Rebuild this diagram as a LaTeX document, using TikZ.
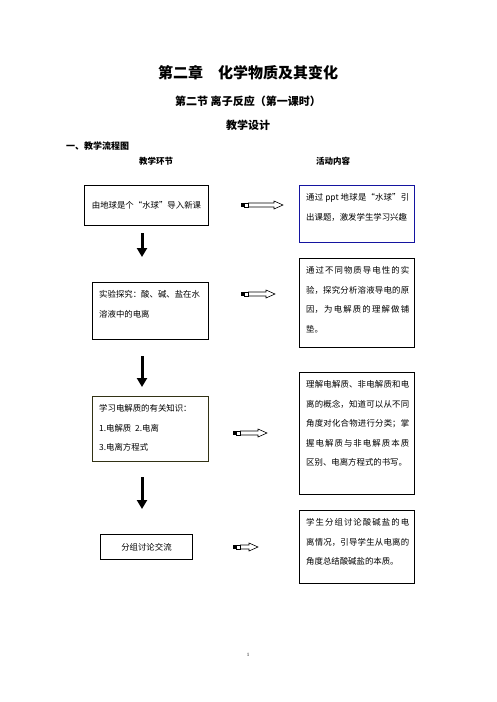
\documentclass[tikz,border=0pt]{standalone}
\usepackage{fontspec}
\setmainfont{Liberation Serif}
\newfontfamily\cjk{Noto Sans CJK SC}
\usetikzlibrary{arrows.meta}
\XeTeXlinebreaklocale "zh"
\XeTeXlinebreakskip=0pt plus 2pt

\definecolor{actblue}{RGB}{20,20,160}
\definecolor{darkolive}{RGB}{50,50,20}

\tikzset{
  stepbox/.style={draw, line width=0.9pt, anchor=north west, inner sep=0pt},
  boxtext/.style={anchor=north west, inner sep=0pt, align=left,
    font=\cjk\fontsize{8.4}{19.5}\selectfont},
  acttext/.style={boxtext, text width=103pt, align=justify},
  headtext/.style={font=\cjk\bfseries\fontsize{#1}{#1}\selectfont, inner sep=0pt},
  downarr/.style={line width=3pt, -{Triangle[width=10pt,length=9pt]}},
}

% hollow arrow between the two columns: x, y, x of the tip
\newcommand\hollowarrow[3]{%
  \fill (#1,#2-2) rectangle (#1+3,#2+2);
  \draw[line width=0.6pt] (#1+3,#2-2) rectangle (#1+7,#2+2);
  \draw[line width=0.6pt] (#1+7,#2-2) -- (#3-9,#2-2) -- (#3-9,#2-4) -- (#3,#2)
    -- (#3-9,#2+4) -- (#3-9,#2+2) -- (#1+7,#2+2);
}

\begin{document}
\begin{tikzpicture}[x=1pt,y=-1pt]
\useasboundingbox (0,0) rectangle (496,702);

% headings
\node[headtext=15] (title) at (248,73) {第二章　化学物质及其变化};
\node[headtext=11] (sect) at (248,101) {第二节 离子反应（第一课时）};
\node[headtext=11] (design) at (248,125) {教学设计};
\node[headtext=9, anchor=west] (flow) at (66,146) {一、教学流程图};
\node[headtext=8.5] (colL) at (156,161) {教学环节};
\node[headtext=8.5] (colR) at (333,161) {活动内容};

% left column: teaching steps
\node[stepbox, minimum width=124pt, minimum height=40pt,
  font=\cjk\fontsize{8.4}{10}\selectfont] (s1) at (84,185) {由地球是个“水球”导入新课};

\node[stepbox, minimum width=116pt, minimum height=57pt] (s2) at (92,282) {};
\node[boxtext] (t2) at (99,290.5) {实验探究：酸、碱、盐在水\\溶液中的电离};

\node[stepbox, draw=darkolive, minimum width=116pt, minimum height=65pt] (s3) at (92,396) {};
\node[boxtext] (t3) at (99,404.5) {学习电解质的有关知识：\\1.电解质\ \ 2.电离\\3.电离方程式};

\node[stepbox, minimum width=92pt, minimum height=25pt,
  font=\cjk\fontsize{8.4}{10}\selectfont] (s4) at (100,534) {分组讨论交流};

% right column: activities
\node[stepbox, draw=actblue, minimum width=115pt, minimum height=57pt] (a1) at (299,185) {};
\node[acttext] (u1) at (306,193.5) {通过 ppt 地球是“水球”引\linebreak 出课题，激发学生学习兴趣};

\node[stepbox, minimum width=115pt, minimum height=89pt] (a2) at (299,258) {};
\node[acttext] (u2) at (306,266.5) {通过不同物质导电性的实\linebreak 验，探究分析溶液导电的原\linebreak 因，为电解质的理解做铺\linebreak 垫。};

\node[stepbox, minimum width=115pt, minimum height=122pt] (a3) at (299,372) {};
\node[acttext] (u3) at (306,380.5) {理解电解质、非电解质和电\linebreak 离的概念，知道可以从不同\linebreak 角度对化合物进行分类；掌\linebreak 握电解质与非电解质本质\linebreak 区别、电离方程式的书写。};

\node[stepbox, minimum width=115pt, minimum height=73pt] (a4) at (299,510) {};
\node[acttext] (u4) at (306,518.5) {学生分组讨论酸碱盐的电\linebreak 离情况，引导学生从电离的\linebreak 角度总结酸碱盐的本质。};

% down arrows
\coordinate (d1s) at (142,233);
\coordinate (d1e) at (142,257);
\coordinate (d2s) at (142,356);
\coordinate (d2e) at (142,387);
\coordinate (d3s) at (142,477);
\coordinate (d3e) at (142,509);
\draw[downarr] (d1s) -- (d1e);
\draw[downarr] (d2s) -- (d2e);
\draw[downarr] (d3s) -- (d3e);

% arrows to the activities
\hollowarrow{241}{205}{283}
\hollowarrow{241}{294}{275}
\hollowarrow{233}{433}{267}
\hollowarrow{233}{547}{258}

\node[font=\fontsize{5}{5}\selectfont, inner sep=0pt] (pageno) at (248,655) {1};
\end{tikzpicture}
\end{document}
